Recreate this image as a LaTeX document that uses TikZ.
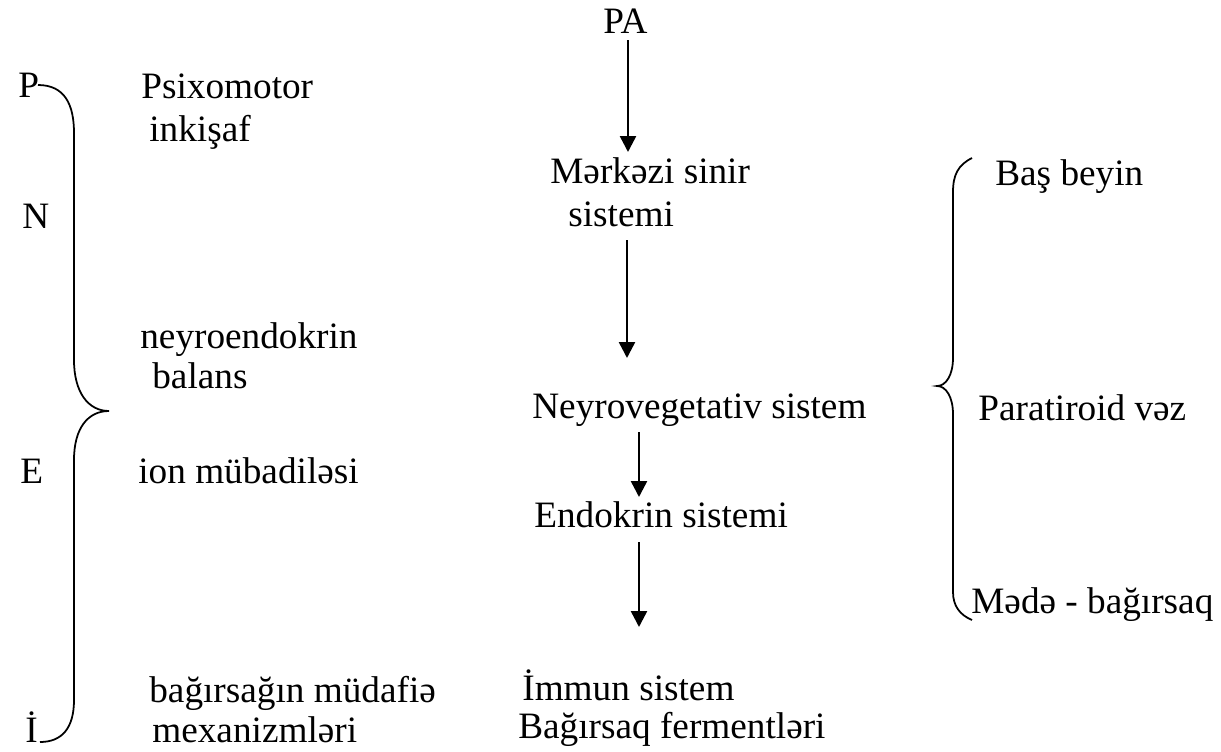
\documentclass[tikz,border=0pt]{standalone}
\usepackage{fontspec}
\setmainfont{Liberation Serif}
\usetikzlibrary{arrows.meta}

\begin{document}
\begin{tikzpicture}[
  x=0.02cm, y=-0.02cm,
  lbl/.style={inner sep=0pt, anchor=base west, font=\fontsize{21.2pt}{25pt}\selectfont},
  arr/.style={-{Triangle[length=0.32cm, width=0.32cm]}, line width=1.4pt},
  brace/.style={line width=1pt},
]
\useasboundingbox (0,0) rectangle (1221,751);

% centre column
\node[lbl] (pa) at (603,33) {PA};
\node[lbl] (mss1) at (550,183) {Mərkəzi sinir};
\node[lbl] (mss2) at (568,226) {sistemi};
\node[lbl] (nvs) at (532,418) {Neyrovegetativ sistem};
\node[lbl] (end) at (534,527) {Endokrin sistemi};
\node[lbl] (imm) at (522,700) {İmmun sistem};
\node[lbl] (ferm) at (518,738) {Bağırsaq fermentləri};

\coordinate (pa-out) at (628,40);
\coordinate (mss-in) at (628,152);
\coordinate (mss-out) at (627,240);
\coordinate (nvs-in) at (627,358);
\coordinate (nvs-out) at (639,432);
\coordinate (end-in) at (639,497);
\coordinate (end-out) at (639,542);
\coordinate (imm-in) at (639,627);

\draw[arr] (pa-out) -- (mss-in);
\draw[arr] (mss-out) -- (nvs-in);
\draw[arr] (nvs-out) -- (end-in);
\draw[arr] (end-out) -- (imm-in);

% left column
\node[lbl] (p) at (18,97) {P};
\node[lbl] (n) at (22,228) {N};
\node[lbl] (e) at (20,483) {E};
\node[lbl] (i) at (25,742) {İ};

\node[lbl] (psi1) at (141,98) {Psixomotor};
\node[lbl] (psi2) at (149,141) {inkişaf};
\node[lbl] (ney1) at (140,348) {neyroendokrin};
\node[lbl] (ney2) at (152,388) {balans};
\node[lbl] (ion) at (138,483) {ion mübadiləsi};
\node[lbl] (bag1) at (149,702) {bağırsağın müdafiə};
\node[lbl] (bag2) at (152,742) {mexanizmləri};

\draw[brace] (38,85) .. controls (65,85) and (74,105) .. (74,133)
  -- (74,360) .. controls (74,392) and (88,411) .. (109,411)
  .. controls (88,411) and (74,428) .. (74,460)
  -- (74,700) .. controls (74,728) and (62,742) .. (40,742);

% right column
\node[lbl] (bas) at (995,185) {Baş beyin};
\node[lbl] (par) at (978,420) {Paratiroid vəz};
\node[lbl] (med) at (971,613) {Mədə - bağırsaq};

\draw[brace] (972,158) .. controls (958,165) and (953,175) .. (953,192)
  -- (953,358) .. controls (953,375) and (946,386) .. (937,386)
  .. controls (946,386) and (953,397) .. (953,414)
  -- (953,592) .. controls (953,606) and (960,615) .. (972,620);
\end{tikzpicture}
\end{document}
